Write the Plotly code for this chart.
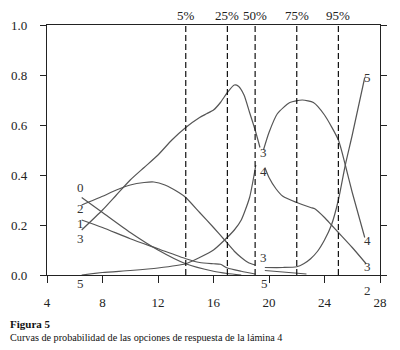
import plotly.graph_objects as go

# ---- data ----
x_ticks = [4, 8, 12, 16, 20, 24, 28]
y_ticks = [0.0, 0.2, 0.4, 0.6, 0.8, 1.0]
quantile_x = [14, 17, 19, 22, 25]
quantile_labels = ["5%", "25%", "50%", "75%", "95%"]

# left block of curves (scores ~6.5 to 19)
left0_x = [6.5, 8, 10, 12, 14, 16, 17, 18]
left0_y = [0.31, 0.25, 0.17, 0.10, 0.045, 0.015, 0.006, 0.0]
left1_x = [6.5, 8, 10, 12, 14, 15, 16, 16.5, 17, 18, 19]
left1_y = [0.22, 0.19, 0.145, 0.105, 0.065, 0.05, 0.045, 0.043, 0.028, 0.015, 0.004]
left2_x = [6.5, 8, 9, 10, 11, 11.7, 12.5, 13.5, 14, 15, 16, 16.8, 17.5, 18, 18.5, 19]
left2_y = [0.28, 0.315, 0.34, 0.36, 0.37, 0.372, 0.36, 0.33, 0.31, 0.25, 0.19, 0.14, 0.095, 0.07, 0.05, 0.04]
left3_x = [6.5, 8, 9, 10, 11, 12, 13, 14, 15, 15.5, 16, 16.5, 17, 17.5, 17.8, 18.2, 18.6, 19, 19.35]
left3_y = [0.18, 0.26, 0.32, 0.38, 0.43, 0.48, 0.54, 0.59, 0.63, 0.645, 0.66, 0.69, 0.73, 0.76, 0.755, 0.72, 0.65, 0.58, 0.51]
left5_x = [6.5, 8, 10, 12, 14, 15, 16, 16.8, 17.5, 18, 18.6, 19.05]
left5_y = [0.0, 0.01, 0.018, 0.028, 0.045, 0.07, 0.10, 0.14, 0.18, 0.22, 0.31, 0.44]

# right block of curves (scores ~19.6 to 27)
right4_x = [19.6, 20, 20.6, 21.5, 22.4, 23.2, 24, 25, 25.5, 26, 26.9]
right4_y = [0.50, 0.57, 0.645, 0.69, 0.70, 0.69, 0.64, 0.54, 0.44, 0.33, 0.15]
right3_x = [19.7, 20, 20.5, 21, 22, 23, 23.3, 24, 24.5, 25, 26, 27]
right3_y = [0.43, 0.39, 0.345, 0.315, 0.29, 0.27, 0.265, 0.23, 0.20, 0.17, 0.11, 0.045]
right5_x = [19.7, 21, 22, 22.5, 23, 23.5, 24, 24.5, 25, 25.5, 26, 26.9]
right5_y = [0.03, 0.03, 0.033, 0.045, 0.065, 0.095, 0.14, 0.20, 0.30, 0.44, 0.56, 0.79]
right2_x = [19.7, 21, 22.7]
right2_y = [0.018, 0.012, 0.004]

# curve labels (option numbers)
label_text = ["0", "2", "1", "3", "5", "3", "4", "3", "5", "5", "4", "3", "2"]
label_x = [6.4, 6.4, 6.4, 6.4, 6.4, 19.6, 19.6, 19.6, 19.7, 27.1, 27.1, 27.1, 27.1]
label_y = [0.35, 0.265, 0.208, 0.148, -0.035, 0.49, 0.415, 0.07, -0.035, 0.79, 0.14, 0.035, -0.06]

# ---- figure ----
# page body adds an 8px offset, so the figure is 392x342 and margins are shifted
FIG_W, FIG_H = 392, 342
M_L, M_T, M_R, M_B = 39, 17, 20, 75
PLOT_W = FIG_W - M_L - M_R
PLOT_H = FIG_H - M_T - M_B

curve_color = "#555555"
fig = go.Figure()

curves = [(left0_x, left0_y), (left1_x, left1_y), (left2_x, left2_y),
          (left3_x, left3_y), (left5_x, left5_y),
          (right4_x, right4_y), (right3_x, right3_y),
          (right5_x, right5_y), (right2_x, right2_y)]
for cx, cy in curves:
    fig.add_trace(go.Scatter(x=cx, y=cy, mode="lines",
                             line=dict(color=curve_color, width=1.2, shape="spline", smoothing=0.6),
                             showlegend=False, hoverinfo="skip"))

for q in quantile_x:
    fig.add_trace(go.Scatter(x=[q, q], y=[0, 1], mode="lines",
                             line=dict(color="#111111", width=1.2, dash="6px,3px"),
                             showlegend=False, hoverinfo="skip"))

serif = "Liberation Serif, Times New Roman, serif"
annotations = []
# y axis spans the full plot height, so paper y equals data y here
for q, t in zip(quantile_x, quantile_labels):
    annotations.append(dict(x=q, y=1.037, xref="x", yref="paper", text=t, showarrow=False,
                            xanchor="center", yanchor="middle",
                            font=dict(family=serif, size=13, color="#222")))
for t, lx, ly in zip(label_text, label_x, label_y):
    annotations.append(dict(x=lx, y=ly, xref="x", yref="paper", text=t, showarrow=False,
                            xanchor="center", yanchor="middle",
                            font=dict(family=serif, size=13, color="#333")))

def screen_to_paper_y(sy):
    fy = sy - 8
    return (M_T + PLOT_H - fy) / PLOT_H

cap_x = -M_L / PLOT_W
annotations.append(dict(x=cap_x, y=screen_to_paper_y(324), xref="paper", yref="paper",
                        xanchor="left", yanchor="middle", text="<b>Figura 5</b>",
                        showarrow=False, font=dict(family=serif, size=11, color="#111")))
annotations.append(dict(x=cap_x, y=screen_to_paper_y(337), xref="paper", yref="paper",
                        xanchor="left", yanchor="middle",
                        text="Curvas de probabilidad de las opciones de respuesta de la lámina 4",
                        showarrow=False, font=dict(family=serif, size=10.2, color="#111")))

fig.update_layout(
    template="none",
    width=FIG_W, height=FIG_H,
    margin=dict(l=M_L, r=M_R, t=M_T, b=M_B, autoexpand=False),
    paper_bgcolor="white", plot_bgcolor="white",
    annotations=annotations,
    font=dict(family=serif, size=13, color="#222"),
)
fig.update_xaxes(range=[4, 28], tickvals=x_ticks, ticktext=[str(v) for v in x_ticks],
                 showline=True, linecolor="#222", linewidth=1.2, mirror=True,
                 ticks="outside", ticklen=7, tickcolor="#222", tickwidth=1.2,
                 tickfont=dict(family=serif, size=13, color="#222"),
                 showgrid=False, zeroline=False, ticklabelstandoff=8, automargin=False)
fig.update_yaxes(range=[0, 1], tickvals=y_ticks, ticktext=[f"{v:.1f}" for v in y_ticks],
                 showline=True, linecolor="#222", linewidth=1.2, mirror="ticks",
                 ticks="outside", ticklen=6, tickcolor="#222", tickwidth=1.2,
                 tickfont=dict(family=serif, size=13, color="#222"),
                 showgrid=False, zeroline=False, ticklabelstandoff=10, automargin=False)

fig.write_html("out.html")
